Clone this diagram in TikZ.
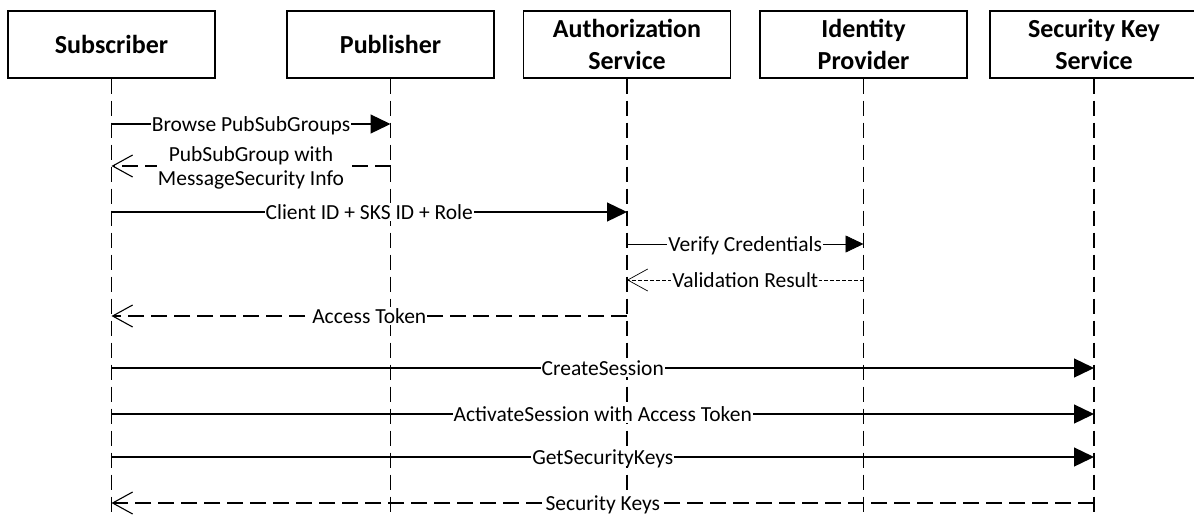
\documentclass[tikz,border=0pt]{standalone}
\usepackage{fontspec}
\setmainfont{Carlito}
\usetikzlibrary{arrows.meta,calc}
\tikzset{
  actor/.style={draw, line width=1.3pt, minimum width=207pt, minimum height=67pt,
    align=center, inner sep=0pt, font=\fontsize{26}{31.5}\selectfont\bfseries},
  lifeline/.style={line width=1.3pt, dash pattern=on 15pt off 7pt},
  msg/.style={fill=white, inner xsep=1pt, inner ysep=2pt, text height=14pt, text depth=0pt,
    font=\fontsize{21.5}{23.5}\selectfont},
  msgtwo/.style={fill=white, inner xsep=1pt, inner ysep=1pt, align=center,
    font=\fontsize{21.5}{23.5}\selectfont},
  call/.style={line width=1.3pt, -{Triangle[length=20pt,width=19pt]}},
  reply/.style={line width=1.3pt, dash pattern=on 16pt off 7pt, -{Straight Barb[length=20pt,width=22pt,line width=1.1pt]}},
  thincall/.style={line width=0.7pt, -{Triangle[length=18pt,width=17pt]}},
  thinreply/.style={line width=0.7pt, dash pattern=on 3.5pt off 2.5pt, -{Straight Barb[length=20pt,width=22pt,line width=0.7pt]}},
}
\begin{document}
\begin{tikzpicture}[x=1pt,y=-1pt]
\useasboundingbox (0,0) rectangle (1194,517);
% actors
\node[actor] (sub)  at (111.5,44.5) {Subscriber};
\node[actor] (pub)  at (390.5,44.5) {Publisher};
\node[actor] (auth) at (627,44.5)   {Authorization\\Service};
\node[actor] (idp)  at (863.5,44.5) {Identity\\Provider};
\node[actor, minimum width=208pt] (sks) at (1094,44.5) {Security Key\\Service};
% lifeline ends
\coordinate (subE)  at (sub.south |- 0,520);
\coordinate (pubE)  at (pub.south |- 0,520);
\coordinate (authE) at (auth.south |- 0,520);
\coordinate (idpE)  at (idp.south |- 0,520);
\coordinate (sksE)  at (sks.south |- 0,520);
\draw[lifeline] (sub.south) -- (subE);
\draw[lifeline] (pub.south) -- (pubE);
\draw[lifeline] (auth.south) -- (authE);
\draw[lifeline] (idp.south) -- (idpE);
\draw[lifeline] (sks.south) -- (sksE);
% message anchor points
\coordinate (m1a) at (sub.south |- 0,124);  \coordinate (m1b) at (pub.south |- 0,124);
\coordinate (m2a) at (pub.south |- 0,166);  \coordinate (m2b) at (sub.south |- 0,166);
\coordinate (m3a) at (sub.south |- 0,212);  \coordinate (m3b) at (auth.south |- 0,212);
\coordinate (m4a) at (auth.south |- 0,244); \coordinate (m4b) at (idp.south |- 0,244);
\coordinate (m5a) at (idp.south |- 0,280);  \coordinate (m5b) at (auth.south |- 0,280);
\coordinate (m6a) at (auth.south |- 0,316); \coordinate (m6b) at (sub.south |- 0,316);
\coordinate (m7a) at (sub.south |- 0,368);  \coordinate (m7b) at (sks.south |- 0,368);
\coordinate (m8a) at (sub.south |- 0,414);  \coordinate (m8b) at (sks.south |- 0,414);
\coordinate (m9a) at (sub.south |- 0,457);  \coordinate (m9b) at (sks.south |- 0,457);
\coordinate (m10a) at (sks.south |- 0,503); \coordinate (m10b) at (sub.south |- 0,503);
% messages
\draw[call] (m1a) -- node[msg] {Browse PubSubGroups} (m1b);
\draw[reply] (m2a) -- (m2b);
\node[msgtwo] (m2lbl) at ($(m2a)!0.5!(m2b)+(0,2)$) {PubSubGroup with\\MessageSecurity Info};
\draw[call] (m3a) -- node[msg] {Client ID + SKS ID + Role} (m3b);
\draw[thincall] (m4a) -- node[msg] {Verify Credentials} (m4b);
\draw[thinreply] (m5a) -- node[msg] {Validation Result} (m5b);
\draw[reply] (m6a) -- node[msg] {Access Token} (m6b);
\draw[call] (m7a) -- node[msg] {CreateSession} (m7b);
\draw[call] (m8a) -- node[msg] {ActivateSession with Access Token} (m8b);
\draw[call] (m9a) -- node[msg] {GetSecurityKeys} (m9b);
\draw[reply] (m10a) -- node[msg] {Security Keys} (m10b);
\end{tikzpicture}
\end{document}
